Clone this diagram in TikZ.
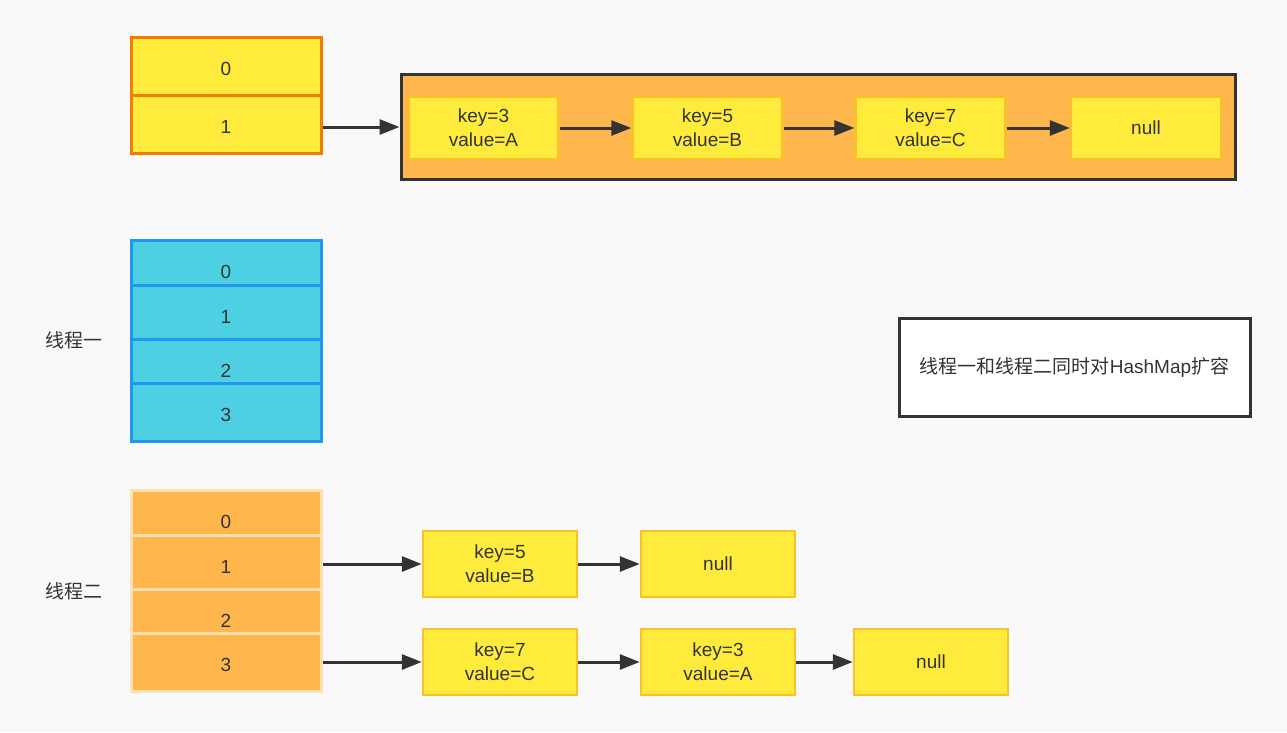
\documentclass[tikz,border=0pt]{standalone}
\usepackage{fontspec}
\setmainfont{Liberation Sans}
\newfontfamily\cjk{Noto Sans CJK SC}
\usetikzlibrary{arrows.meta}

\definecolor{fondo}{HTML}{F9F9F9}
\definecolor{linea}{HTML}{333333}
\definecolor{amarillo}{HTML}{FFEB3B}
\definecolor{amarilloborde}{HTML}{FBC02D}
\definecolor{naranja}{HTML}{FFB74D}
\definecolor{naranjaborde}{HTML}{F57C00}
\definecolor{naranjaclaro}{HTML}{FFE0B2}
\definecolor{cian}{HTML}{4DD0E1}
\definecolor{azul}{HTML}{2196F3}

\tikzset{
  celda/.style={rectangle, minimum width=190pt, minimum height=58pt, inner sep=0pt, line width=3pt, text=linea, text height=19pt, text depth=0pt},
  nodo/.style={rectangle, fill=amarillo, draw=amarilloborde, line width=2.5pt, inner sep=0pt, align=center, text=linea, minimum width=150pt, minimum height=62pt},
  nodob/.style={nodo, minimum width=154pt, minimum height=66pt},
  flecha/.style={-{Triangle[length=20pt,width=15pt]}, line width=3pt, draw=linea}
}

\begin{document}
\begin{tikzpicture}[x=1pt, y=-1pt, font=\fontsize{19}{24}\selectfont]
    % Fondo
    \fill[fondo] (0,0) rectangle (1287,732);

    % Tabla original
    \node[celda, fill=amarillo, draw=naranjaborde] (t0-0) at (226,66) {0};
    \node[celda, fill=amarillo, draw=naranjaborde] (t0-1) at (226,124) {1};

    % Lista original
    \node[rectangle, fill=naranja, draw=linea, line width=3pt, minimum width=834pt, minimum height=105pt] (lista) at (818,127) {};
    \node[nodo] (a3) at (483.5,128) {key=3\\value=A};
    \node[nodo] (a5) at (707.5,128) {key=5\\value=B};
    \node[nodo] (a7) at (930.5,128) {key=7\\value=C};
    \node[nodo] (anull) at (1146,128) {null};

    \draw[flecha] (t0-1.east |- lista.west) -- (lista.west);
    \draw[flecha] (a3) -- (a5);
    \draw[flecha] (a5) -- (a7);
    \draw[flecha] (a7) -- (anull);

    % Hilo uno
    \node[text=linea] (hilo1) at (74,340) {\cjk 线程一};
    \node[celda, fill=cian, draw=azul] (t1-0) at (226,269) {0};
    \node[celda, fill=cian, draw=azul] (t1-1) at (226,314) {1};
    \node[celda, fill=cian, draw=azul] (t1-2) at (226,368) {2};
    \node[celda, fill=cian, draw=azul] (t1-3) at (226,412) {3};

    % Nota
    \node[rectangle, fill=white, draw=linea, line width=3pt, minimum width=351pt, minimum height=98pt, text=linea] (nota) at (1074.5,367) {{\cjk 线程一和线程二同时对}HashMap{\cjk 扩容}};

    % Hilo dos
    \node[text=linea] (hilo2) at (74,591) {\cjk 线程二};
    \node[celda, fill=naranja, draw=naranjaclaro] (t2-0) at (226,519) {0};
    \node[celda, fill=naranja, draw=naranjaclaro] (t2-1) at (226,564) {1};
    \node[celda, fill=naranja, draw=naranjaclaro] (t2-2) at (226,618) {2};
    \node[celda, fill=naranja, draw=naranjaclaro] (t2-3) at (226,662) {3};

    \node[nodob] (b5) at (500,564) {key=5\\value=B};
    \node[nodob] (bnull) at (718,564) {null};
    \node[nodob] (c7) at (500,662) {key=7\\value=C};
    \node[nodob] (c3) at (718,662) {key=3\\value=A};
    \node[nodob] (cnull) at (931,662) {null};

    \draw[flecha] (t2-1.east) -- (b5.west);
    \draw[flecha] (b5) -- (bnull);
    \draw[flecha] (t2-3.east) -- (c7.west);
    \draw[flecha] (c7) -- (c3);
    \draw[flecha] (c3) -- (cnull);

\end{tikzpicture}
\end{document}
